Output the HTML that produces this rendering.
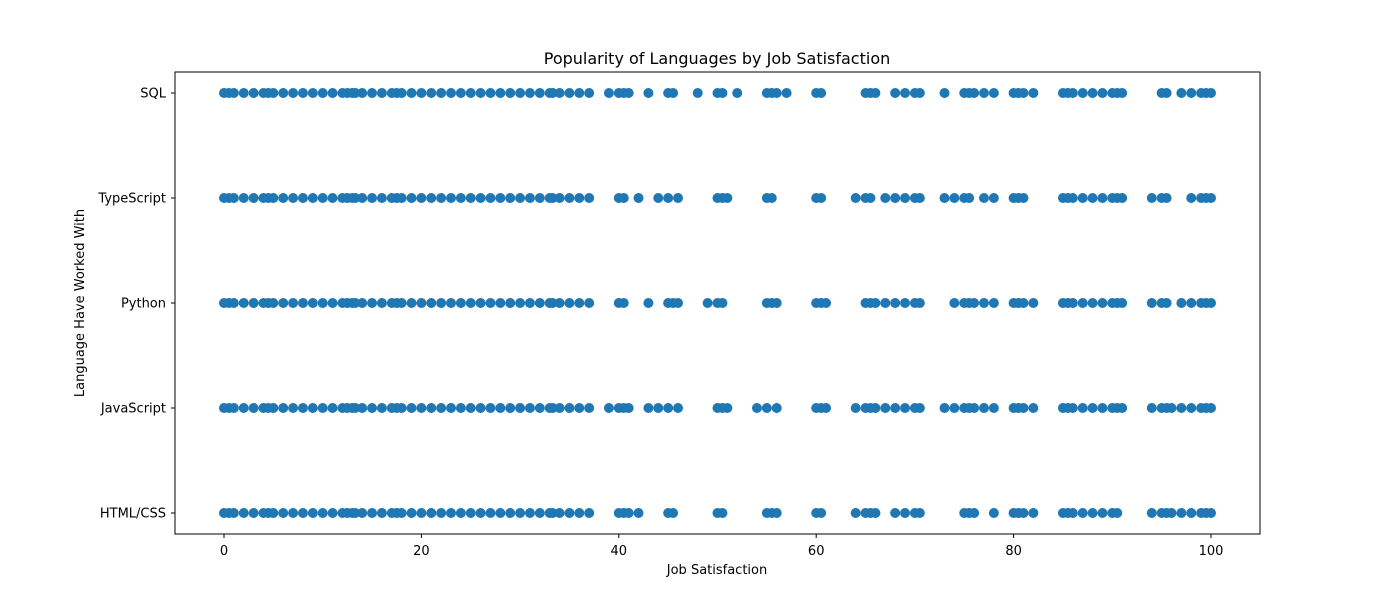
<!DOCTYPE html>
<html><head><meta charset="utf-8"><style>
body{margin:0;background:#fff;}
svg text{font-family:"DejaVu Sans","Liberation Sans",sans-serif;fill:#000;}
</style></head><body>
<svg id="chart" width="1400" height="600" xmlns="http://www.w3.org/2000/svg">
<rect width="1400" height="600" fill="#fff"/>
<text x="717" y="64" font-size="16" text-anchor="middle">Popularity of Languages by Job Satisfaction</text>
<text x="717" y="574" font-size="13" text-anchor="middle">Job Satisfaction</text>
<text transform="translate(84,303) rotate(-90)" font-size="13" text-anchor="middle">Language Have Worked With</text>
<g id="marks"></g>
<rect x="175" y="72" width="1085" height="462" fill="none" stroke="#000" stroke-width="1"/>
<g id="axes"></g>
</svg>
<script>
const categories = ["HTML/CSS","JavaScript","Python","TypeScript","SQL"];
const xTicks = [0,20,40,60,80,100];
const lowRange = [0,0.5,1,2,3,4,4.5,5,6,7,8,9,10,11,12,12.5,13,13.3,14,15,16,17,17.5,18,19,20,21,22,23,24,25,26,27,28,29,30,31,32,33,33.3,34,35,36,37];
const sqlHigh = [39,40,40.5,41,43,45,45.5,48,50,50.5,52,55,55.5,56,57,60,60.5,65,65.5,66,68,69,70,70.5,73,75,75.5,76,77,78,80,80.5,81,82,85,85.5,86,87,88,89,90,90.5,91,95,95.5,97,98,99,99.5,100];
const tsHigh = [40,40.5,42,44,45,46,50,50.5,51,55,55.5,60,60.5,64,65,65.5,67,68,69,70,70.5,73,74,75,75.5,77,78,80,80.5,81,85,85.5,86,87,88,89,90,90.5,91,94,95,95.5,98,99,99.5,100];
const pyHigh = [40,40.5,43,45,45.5,46,49,50,50.5,55,55.5,56,60,60.5,61,65,65.5,66,67,68,69,70,70.5,74,75,75.5,76,77,78,80,80.5,81,82,85,85.5,86,87,88,89,90,90.5,91,94,95,95.5,97,98,99,99.5,100];
const jsHigh = [39,40,40.5,41,43,44,45,46,50,50.5,51,54,55,56,60,60.5,61,64,65,65.5,66,67,68,69,70,70.5,73,74,75,75.5,76,77,78,80,80.5,81,82,85,85.5,86,87,88,89,90,90.5,91,94,95,95.5,96,97,98,99,99.5,100];
const htmlHigh = [40,40.5,41,42,45,45.5,50,50.5,55,55.5,56,60,60.5,64,65,65.5,66,68,69,70,70.5,75,75.5,76,78,80,80.5,81,82,85,85.5,86,87,88,89,90,90.5,94,95,95.5,96,97,98,99,99.5,100];
const highByCat = [htmlHigh, jsHigh, pyHigh, tsHigh, sqlHigh];

const NS="http://www.w3.org/2000/svg";
function xs(v){return 224 + v*(1211-224)/100;}
function ys(i){return 513 - i*105;}
const marks=document.getElementById('marks');
const axes=document.getElementById('axes');
categories.forEach((c,i)=>{
  const vals = lowRange.concat(highByCat[i]);
  vals.forEach(v=>{
    const p=document.createElementNS(NS,'circle');
    p.setAttribute('cx',xs(v));p.setAttribute('cy',ys(i));p.setAttribute('r',5);
    p.setAttribute('fill','#1f77b4');
    
    
    marks.appendChild(p);
  });
  const t=document.createElementNS(NS,'line');
  t.setAttribute('x1',171);t.setAttribute('x2',175);t.setAttribute('y1',ys(i));t.setAttribute('y2',ys(i));t.setAttribute('stroke','#000');
  
  
  axes.appendChild(t);
  const l=document.createElementNS(NS,'text');
  l.setAttribute('x',166);l.setAttribute('y',ys(i)+4.5);l.setAttribute('font-size','13');l.setAttribute('text-anchor','end');
  l.textContent=c;
  
  
  axes.appendChild(l);
});
xTicks.forEach(v=>{
  const t=document.createElementNS(NS,'line');
  t.setAttribute('x1',xs(v));t.setAttribute('x2',xs(v));t.setAttribute('y1',534);t.setAttribute('y2',538);t.setAttribute('stroke','#000');
  
  
  axes.appendChild(t);
  const l=document.createElementNS(NS,'text');
  l.setAttribute('x',xs(v));l.setAttribute('y',555);l.setAttribute('font-size','13');l.setAttribute('text-anchor','middle');
  l.textContent=v;
  
  
  axes.appendChild(l);
});
</script>
</body></html>
